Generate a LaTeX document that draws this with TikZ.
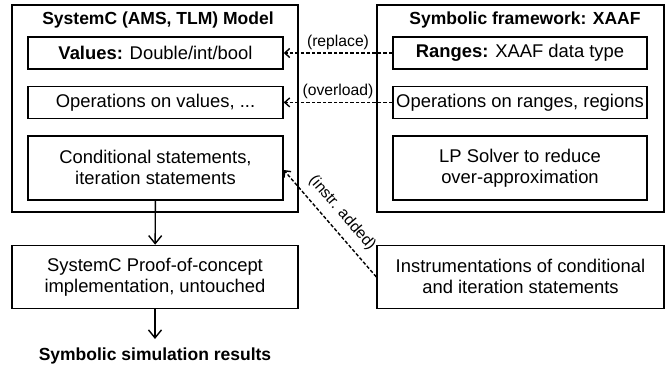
\documentclass[tikz,border=0pt]{standalone}
\usepackage{fontspec}
\setmainfont{Liberation Sans}
\usetikzlibrary{positioning,arrows.meta}
\newcommand{\boxhead}[1]{\textbf{#1}}
\newcommand{\boxtitle}[1]{{\fontsize{17.5}{21}\selectfont\textbf{#1}}}

\begin{document}
\begin{tikzpicture}[
    x=1pt, y=-1pt,
    every node/.style={
        align=center,
        inner sep=0pt,
        font=\fontsize{18.4}{21}\selectfont
      },
    frame/.style={draw, minimum height=207pt},
    part/.style={draw, minimum height=32pt},
    tallpart/.style={draw, minimum height=64pt},
    edgelabel/.style={font=\fontsize{15.7}{18}\selectfont},
    replaces/.style={dash pattern=on 3.5pt off 2pt, -{Straight Barb[length=5pt,width=9pt]}},
    flow/.style={-{Straight Barb[length=8pt,width=13pt]}},
    line width=1.4pt,
    node distance=16pt
    ]
    \useasboundingbox (0,0) rectangle (665,368);

    % ============= SYSTEMC (GAUCHE) ==================

    % -------------------------------
    \node[frame, minimum width=286pt] (SC) at (155,108.5) {};
    \node (SCT) at (158,20) {\boxtitle{SystemC (AMS, TLM) Model}};
    % -------------------------------

    % -------------------------------
    \node[part, minimum width=255pt] (V) at (155.5,53) {\boxhead{Values:} Double/int/bool};
    \node[part, minimum width=255pt, below=of V] (OV) {Operations on values, ...};
    \node[tallpart, minimum width=255pt, below=of OV] (CS) {Conditional statements,\\iteration statements};
    % -------------------------------

    % ============= XAAF (DROITE) ==================

    % -------------------------------
    \node[frame, minimum width=287pt] (XA) at (520.5,108.5) {};
    \node (XAT) at (525,20) {\boxtitle{Symbolic framework: XAAF}};
    % -------------------------------

    % -------------------------------
    \node[part, minimum width=254pt] (R) at (520,53) {\boxhead{Ranges:} XAAF data type};
    \node[part, minimum width=254pt, below=of R] (OR) {Operations on ranges, regions};
    \node[tallpart, minimum width=254pt, below=of OR] (LP) {LP Solver to reduce\\over-approximation};
    % -------------------------------

    % ============= BAS ==================

    % -------------------------------
    \node[draw, minimum width=286pt, minimum height=63pt, below=32pt of SC] (PC) {SystemC Proof-of-concept\\implementation, untouched};
    \node[draw, minimum width=287pt, minimum height=63pt, below=32pt of XA] (IN) {Instrumentations of conditional\\and iteration statements};
    \node (SR) at (155,356) {\boxtitle{Symbolic simulation results}};
    % -------------------------------

    % ============= LIGNES ==================
    \draw[replaces] (R) -- node[above=3pt, edgelabel] {(replace)} (V);
    \draw[replaces] (OR) -- node[above=3pt, edgelabel] {(overload)} (OV);
    \draw[replaces] (IN.west) -- node[sloped, above=8pt, edgelabel] {(instr. added)} (CS.east |- 0,170);
    \draw[flow] (CS) -- (PC);
    \draw[flow] (PC) -- (PC.south |- 0,339);

  \end{tikzpicture}
\end{document}
